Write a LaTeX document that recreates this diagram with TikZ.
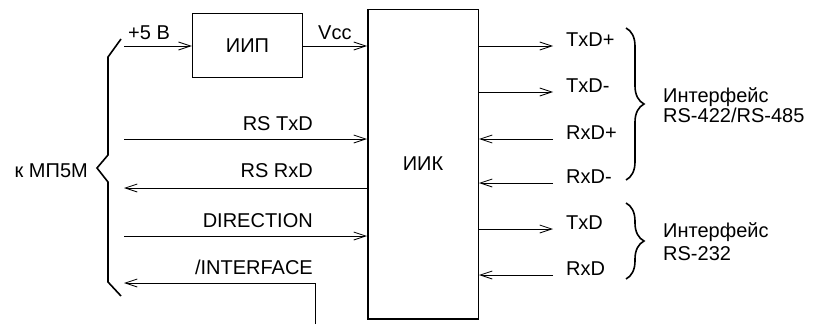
\documentclass[tikz,border=0pt]{standalone}
\usepackage{fontspec}
\setmainfont{Liberation Sans}
\usetikzlibrary{arrows.meta, positioning, decorations.pathreplacing}

\begin{document}
\begin{tikzpicture}[x=1pt, y=-1pt,
  sig/.style={line width=0.8pt, -{Straight Barb[length=12pt,width=8pt]}},
  block/.style={draw, line width=1.5pt, rectangle, inner sep=0pt, font=\fontsize{20}{24}\selectfont},
  lbl/.style={inner sep=0pt, font=\fontsize{20}{24}\selectfont},
  grp/.style={line width=1.6pt, decorate, decoration={brace, amplitude=18pt}}
]
  \useasboundingbox (0,0) rectangle (816,324);

  % ======= блоки =======
  \node[block, minimum width=110pt, minimum height=64pt] (iip) at (247.5,45.5) {ИИП};
  \node[block, minimum width=110.5pt, minimum height=309.5pt] (iik) at (423,164) {ИИК};

  % ======= левая скобка: к МП5М =======
  \draw[line width=1.6pt] (121,39) -- (108,57) -- (108,155) -- (97,168) -- (108,182) -- (108,282) -- (121,296);
  \node[lbl, anchor=base east] (mp5m) at (88,177) {к МП5М};

  % питание
  \coordinate (p5) at (124,46);
  \draw[sig] (p5) -- (p5 -| iip.west);
  \draw[sig] (iip.east |- p5) -- (p5 -| iik.west);
  \node[lbl, anchor=base west] (lp5) at (128,39) {+5 В};
  \node[lbl, anchor=base west] (lvcc) at (318,39) {Vcc};

  % сигналы от/к МП5М
  \coordinate (rstx) at (124,139);
  \coordinate (rsrx) at (124,188);
  \coordinate (dir) at (124,236);
  \coordinate (intf) at (124,283);
  \coordinate (intfbot) at (315,324);
  \draw[sig] (rstx) -- (rstx -| iik.west);
  \draw[sig] (rsrx -| iik.west) -- (rsrx);
  \draw[sig] (dir) -- (dir -| iik.west);
  \draw[sig] (intfbot) |- (intf);
  \node[lbl, anchor=base east] (lrstx) at (313,130) {RS TxD};
  \node[lbl, anchor=base east] (lrsrx) at (313,177) {RS RxD};
  \node[lbl, anchor=base east] (ldir) at (313,227) {DIRECTION};
  \node[lbl, anchor=base east] (lintf) at (313,274) {/INTERFACE};

  % ======= правая сторона =======
  \coordinate (txdp) at (553,46);
  \coordinate (txdm) at (553,92);
  \coordinate (rxdp) at (553,139);
  \coordinate (rxdm) at (553,183);
  \coordinate (txd) at (553,229);
  \coordinate (rxd) at (553,275);
  \draw[sig] (txdp -| iik.east) -- (txdp);
  \draw[sig] (txdm -| iik.east) -- (txdm);
  \draw[sig] (rxdp) -- (rxdp -| iik.east);
  \draw[sig] (rxdm) -- (rxdm -| iik.east);
  \draw[sig] (txd -| iik.east) -- (txd);
  \draw[sig] (rxd) -- (rxd -| iik.east);
  \node[lbl, anchor=base west] (ltxdp) at (566,46) {TxD+};
  \node[lbl, anchor=base west] (ltxdm) at (566,92) {TxD-};
  \node[lbl, anchor=base west] (lrxdp) at (566,139) {RxD+};
  \node[lbl, anchor=base west] (lrxdm) at (566,183) {RxD-};
  \node[lbl, anchor=base west] (ltxd) at (566,229) {TxD};
  \node[lbl, anchor=base west] (lrxd) at (566,275) {RxD};

  % фигурные скобки интерфейсов
  \draw[grp] (626,28) -- (626,180);
  \draw[grp] (626,203) -- (626,279);
  \node[lbl, anchor=base west, align=left, font=\fontsize{20}{20}\selectfont] (rs485) at (663,122) {Интерфейс\\RS-422/RS-485};
  \node[lbl, anchor=base west, align=left, font=\fontsize{20}{23}\selectfont] (rs232) at (663,260) {Интерфейс\\RS-232};

\end{tikzpicture}
\end{document}
